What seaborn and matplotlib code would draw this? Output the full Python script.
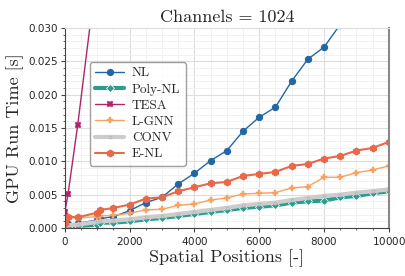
import numpy as np
import pandas as pd
import seaborn as sns
import matplotlib
matplotlib.use("Agg")
import matplotlib.pyplot as plt
from matplotlib.ticker import MultipleLocator

# spatial positions
pos = [0, 100, 400, 1000, 1100, 1500, 2000, 2500, 3000, 3500, 4000, 4500, 5000,
       5500, 6000, 6500, 7000, 7500, 8000, 8500, 9000, 9500, 10000]

nl = [0.0005, 0.0006, 0.0007, 0.0012, 0.0014, 0.0017, 0.0026, 0.0038, 0.0046, 0.0066,
      0.0082, 0.0101, 0.0116, 0.0145, 0.0166, 0.0181, 0.0220, 0.0253, 0.0271, 0.0305,
      0.0340, 0.0370, 0.0400]
poly_nl = [0.0002, 0.0002, 0.0003, 0.0005, 0.0008, 0.0008, 0.0010, 0.0013, 0.0015, 0.0018,
           0.0021, 0.0024, 0.0027, 0.0030, 0.0032, 0.0034, 0.0038, 0.0040, 0.0041, 0.0046,
           0.0048, 0.0052, 0.0055]
tesa_pos = [0, 100, 400, 1000]
tesa = [0.0024, 0.0051, 0.0155, 0.0390]
lgnn = [0.0010, 0.0015, 0.0015, 0.0017, 0.0018, 0.0019, 0.0022, 0.0027, 0.0028, 0.0034,
        0.0036, 0.0042, 0.0045, 0.0051, 0.0052, 0.0053, 0.0060, 0.0062, 0.0076, 0.0076,
        0.0083, 0.0087, 0.0093]
conv = [0.0004, 0.0004, 0.0005, 0.0009, 0.0010, 0.0011, 0.0013, 0.0016, 0.0018, 0.0021,
        0.0024, 0.0027, 0.0030, 0.0034, 0.0036, 0.0038, 0.0042, 0.0045, 0.0048, 0.0050,
        0.0053, 0.0055, 0.0058]
enl = [0.0008, 0.0017, 0.0016, 0.0023, 0.0027, 0.0030, 0.0035, 0.0044, 0.0046, 0.0055,
       0.0061, 0.0067, 0.0069, 0.0078, 0.0081, 0.0084, 0.0093, 0.0096, 0.0104, 0.0108,
       0.0116, 0.0120, 0.0129]

sns.set_style("whitegrid")
plt.rcParams["axes.formatter.use_mathtext"] = True

fig = plt.figure(figsize=(4.05, 2.76), dpi=100)
ax = fig.add_axes([0.16, 0.174, 0.80, 0.725])

serif = "cmr10"

sns.lineplot(x=pos, y=nl, ax=ax, color="#2166a5", marker="o", markersize=4.5,
             linewidth=1, markeredgecolor="#2166a5", label="NL")
sns.lineplot(x=pos, y=poly_nl, ax=ax, color="#2a9d8f", marker="D", markersize=4,
             linewidth=3, markeredgecolor="white", markeredgewidth=0.5, label="Poly-NL")
sns.lineplot(x=tesa_pos, y=tesa, ax=ax, color="#b0246a", marker="X", markersize=4.5,
             linewidth=1, markeredgecolor="#b0246a", markeredgewidth=0.3, label="TESA")
sns.lineplot(x=pos, y=lgnn, ax=ax, color="#f7a25f", marker="P", markersize=5,
             linewidth=1, markeredgecolor="#f7a25f", markeredgewidth=0.3, label="L-GNN")
sns.lineplot(x=pos, y=conv, ax=ax, color="#cccccc", marker=".", markersize=4,
             linewidth=3, markeredgecolor="#bbbbbb", label="CONV")
sns.lineplot(x=pos, y=enl, ax=ax, color="#e8684a", marker="h", markersize=5,
             linewidth=1.5, markeredgecolor="#e8684a", label="E-NL")

ax.set_xlim(0, 10000)
ax.set_ylim(0, 0.030)
ax.xaxis.set_major_locator(MultipleLocator(2000))
ax.xaxis.set_minor_locator(MultipleLocator(500))
ax.yaxis.set_major_locator(MultipleLocator(0.005))
ax.yaxis.set_minor_locator(MultipleLocator(0.001))
ax.yaxis.set_major_formatter(matplotlib.ticker.FormatStrFormatter("%.3f"))
ax.grid(which="major", color="#dddddd", linewidth=0.8)
ax.grid(which="minor", color="#f0f0f0", linewidth=0.6)
ax.tick_params(which="both", direction="out", labelsize=7.5, length=3, color="#444444", pad=2)
ax.tick_params(which="minor", length=1.5)
ax.tick_params(axis="both", which="both", bottom=True, left=True)
for s in ["left", "bottom"]:
    ax.spines[s].set_color("#444444")
    ax.spines[s].set_linewidth(0.8)
ax.spines["right"].set_color("#888888")
ax.spines["right"].set_linewidth(1.5)
ax.spines["top"].set_color("#dddddd")

ax.set_title("Channels = 1024", fontfamily=serif, fontsize=13, pad=4)
ax.set_xlabel("Spatial Positions [-]", fontfamily=serif, fontsize=13, labelpad=2)
ax.set_ylabel("GPU Run Time [s]", fontfamily=serif, fontsize=13, labelpad=3)

leg = ax.legend(loc="upper left", bbox_to_anchor=(0.077, 0.83), borderaxespad=0,
                prop={"family": serif, "size": 9.5},
                frameon=True, handlelength=2.2, labelspacing=0.3, borderpad=0.4,
                handletextpad=0.6, facecolor="white", edgecolor="#888888", fancybox=True)

fig.savefig("out.png", dpi=100)
